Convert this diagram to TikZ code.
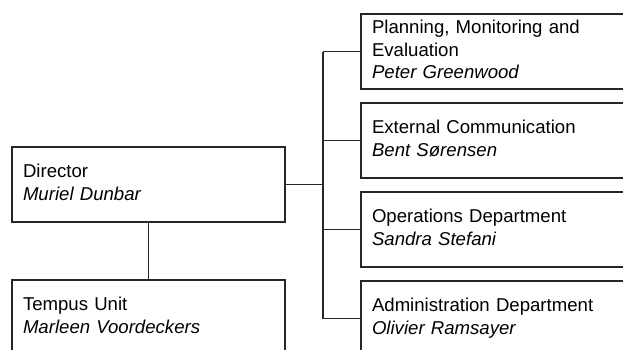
\documentclass[tikz,border=0pt]{standalone}
\usepackage{fontspec}
\setmainfont{Liberation Sans}
\begin{document}
\begin{tikzpicture}[x=1pt,y=1pt]
	\tikzstyle{unit_box} = [rectangle, draw=black!85, line width=1.8pt, minimum height=75pt, inner xsep=11pt, inner ysep=0pt, align=left, font=\fontsize{18.6}{22.5}\selectfont, execute at begin node=\strut, execute at end node=\strut]
	\tikzstyle{left_box} = [unit_box, minimum width=273pt, text width=251pt]
	\tikzstyle{right_box} = [unit_box, minimum width=280pt, text width=258pt]
	\tikzstyle{branch} = [draw=black!85, line width=1.8pt]

	\useasboundingbox (0,0) rectangle (623,349);
	\clip (0,0) rectangle (623,349);

	% Director and unit below
	\node (DIR) [left_box] at (148.5,164.5) {Director\\\textit{Muriel Dunbar}};
	\node (TU) [left_box] at (148.5,31.5) {Tempus Unit\\\textit{Marleen Voordeckers}};

	% Departments on the right
	\node (PME) [right_box] at (501,297.5) {Planning, Monitoring and\\Evaluation\\\textit{Peter Greenwood}};
	\node (EC) [right_box] at (501,208.5) {External Communication\\\textit{Bent Sørensen}};
	\node (OD) [right_box] at (501,119.5) {Operations Department\\\textit{Sandra Stefani}};
	\node (AD) [right_box] at (501,30.5) {Administration Department\\\textit{Olivier Ramsayer}};

	% Connectors
	\coordinate (J) at (323,164.5);
	\draw[branch] (DIR.east) -- (J);
	\draw[branch] (J |- PME.west) -- (J |- AD.west);
	\foreach \n in {PME,EC,OD,AD}
	\draw[branch] (J |- \n.west) -- (\n.west);
	\draw[branch] (DIR.south) -- (TU.north);
\end{tikzpicture}
\end{document}
